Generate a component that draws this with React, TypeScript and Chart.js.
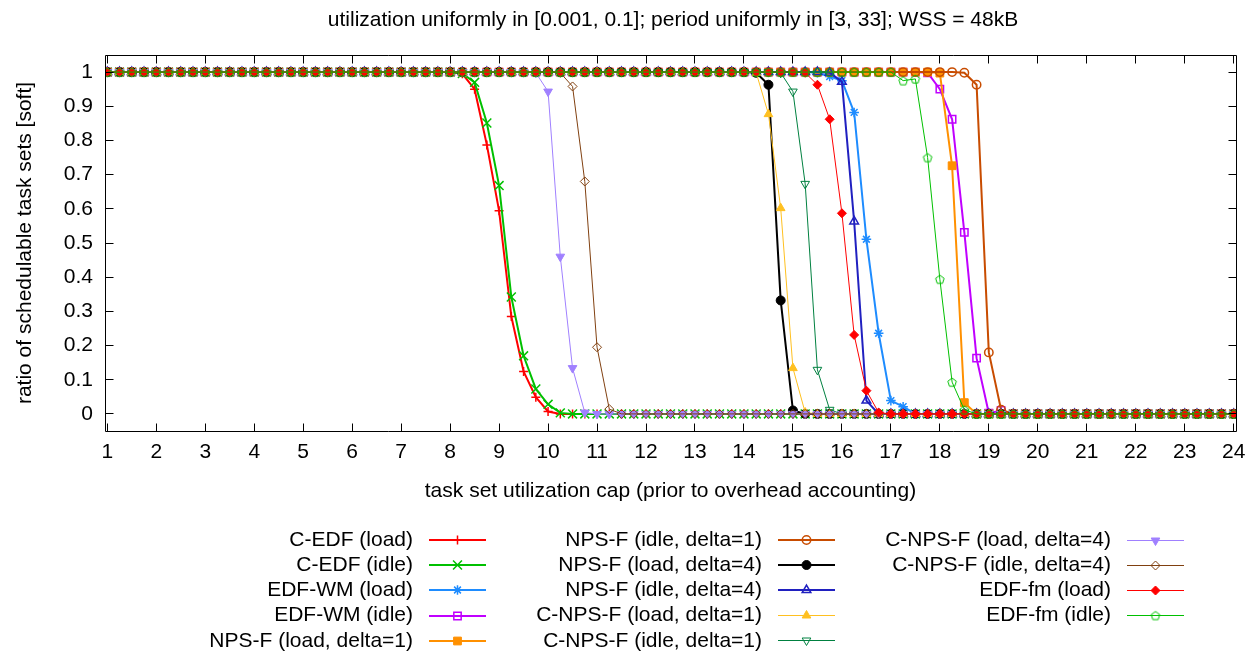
import React, { useEffect, useRef } from "react";
import { Chart, registerables } from "chart.js";
import { drawPoint } from "chart.js/helpers";

Chart.register(...registerables);

const FONT = "'Liberation Sans', Arial, sans-serif";
const FONT_SIZE = 21;

const chartTitle = "utilization uniformly in [0.001, 0.1]; period uniformly in [3, 33]; WSS = 48kB";
const xAxisTitle = "task set utilization cap (prior to overhead accounting)";
const yAxisTitle = "ratio of schedulable task sets [soft]";

const xValues = [
  1, 1.25, 1.5, 1.75, 2, 2.25, 2.5, 2.75, 3, 3.25,
  3.5, 3.75, 4, 4.25, 4.5, 4.75, 5, 5.25, 5.5, 5.75,
  6, 6.25, 6.5, 6.75, 7, 7.25, 7.5, 7.75, 8, 8.25,
  8.5, 8.75, 9, 9.25, 9.5, 9.75, 10, 10.25, 10.5, 10.75,
  11, 11.25, 11.5, 11.75, 12, 12.25, 12.5, 12.75, 13, 13.25,
  13.5, 13.75, 14, 14.25, 14.5, 14.75, 15, 15.25, 15.5, 15.75,
  16, 16.25, 16.5, 16.75, 17, 17.25, 17.5, 17.75, 18, 18.25,
  18.5, 18.75, 19, 19.25, 19.5, 19.75, 20, 20.25, 20.5, 20.75,
  21, 21.25, 21.5, 21.75, 22, 22.25, 22.5, 22.75, 23, 23.25,
  23.5, 23.75, 24,
];

const xTicks = [1, 2, 3, 4, 5, 6, 7, 8, 9, 10, 11, 12, 13, 14, 15, 16, 17, 18, 19, 20, 21, 22, 23, 24];
const yTicks = [0, 0.1, 0.2, 0.3, 0.4, 0.5, 0.6, 0.7, 0.8, 0.9, 1];
const yTickLabels = ["0", "0.1", "0.2", "0.3", "0.4", "0.5", "0.6", "0.7", "0.8", "0.9", "1"];

const cEdfLoad = [
  1, 1, 1, 1, 1, 1, 1, 1, 1, 1,
  1, 1, 1, 1, 1, 1, 1, 1, 1, 1,
  1, 1, 1, 1, 1, 1, 1, 1, 1, 0.995,
  0.95, 0.787, 0.594, 0.285, 0.124, 0.049, 0.007, 0, 0, 0,
  0, 0, 0, 0, 0, 0, 0, 0, 0, 0,
  0, 0, 0, 0, 0, 0, 0, 0, 0, 0,
  0, 0, 0, 0, 0, 0, 0, 0, 0, 0,
  0, 0, 0, 0, 0, 0, 0, 0, 0, 0,
  0, 0, 0, 0, 0, 0, 0, 0, 0, 0,
  0, 0, 0,
];
const cEdfIdle = [
  1, 1, 1, 1, 1, 1, 1, 1, 1, 1,
  1, 1, 1, 1, 1, 1, 1, 1, 1, 1,
  1, 1, 1, 1, 1, 1, 1, 1, 1, 0.996,
  0.97, 0.851, 0.668, 0.342, 0.17, 0.073, 0.028, 0.003, 0, 0,
  0, 0, 0, 0, 0, 0, 0, 0, 0, 0,
  0, 0, 0, 0, 0, 0, 0, 0, 0, 0,
  0, 0, 0, 0, 0, 0, 0, 0, 0, 0,
  0, 0, 0, 0, 0, 0, 0, 0, 0, 0,
  0, 0, 0, 0, 0, 0, 0, 0, 0, 0,
  0, 0, 0,
];
const edfWmLoad = [
  1, 1, 1, 1, 1, 1, 1, 1, 1, 1,
  1, 1, 1, 1, 1, 1, 1, 1, 1, 1,
  1, 1, 1, 1, 1, 1, 1, 1, 1, 1,
  1, 1, 1, 1, 1, 1, 1, 1, 1, 1,
  1, 1, 1, 1, 1, 1, 1, 1, 1, 1,
  1, 1, 1, 1, 1, 1, 1, 1, 0.998, 0.987,
  0.975, 0.882, 0.511, 0.236, 0.039, 0.021, 0, 0, 0, 0,
  0, 0, 0, 0, 0, 0, 0, 0, 0, 0,
  0, 0, 0, 0, 0, 0, 0, 0, 0, 0,
  0, 0, 0,
];
const edfWmIdle = [
  1, 1, 1, 1, 1, 1, 1, 1, 1, 1,
  1, 1, 1, 1, 1, 1, 1, 1, 1, 1,
  1, 1, 1, 1, 1, 1, 1, 1, 1, 1,
  1, 1, 1, 1, 1, 1, 1, 1, 1, 1,
  1, 1, 1, 1, 1, 1, 1, 1, 1, 1,
  1, 1, 1, 1, 1, 1, 1, 1, 1, 1,
  1, 1, 1, 1, 1, 1, 1, 0.998, 0.95, 0.862,
  0.531, 0.163, 0.002, 0.01, 0, 0, 0, 0, 0, 0,
  0, 0, 0, 0, 0, 0, 0, 0, 0, 0,
  0, 0, 0,
];
const npsfLoad1 = [
  1, 1, 1, 1, 1, 1, 1, 1, 1, 1,
  1, 1, 1, 1, 1, 1, 1, 1, 1, 1,
  1, 1, 1, 1, 1, 1, 1, 1, 1, 1,
  1, 1, 1, 1, 1, 1, 1, 1, 1, 1,
  1, 1, 1, 1, 1, 1, 1, 1, 1, 1,
  1, 1, 1, 1, 1, 1, 1, 1, 1, 1,
  1, 1, 1, 1, 1, 1, 1, 1, 0.997, 0.726,
  0.033, 0, 0, 0, 0, 0, 0, 0, 0, 0,
  0, 0, 0, 0, 0, 0, 0, 0, 0, 0,
  0, 0, 0,
];
const npsfIdle1 = [
  1, 1, 1, 1, 1, 1, 1, 1, 1, 1,
  1, 1, 1, 1, 1, 1, 1, 1, 1, 1,
  1, 1, 1, 1, 1, 1, 1, 1, 1, 1,
  1, 1, 1, 1, 1, 1, 1, 1, 1, 1,
  1, 1, 1, 1, 1, 1, 1, 1, 1, 1,
  1, 1, 1, 1, 1, 1, 1, 1, 1, 1,
  1, 1, 1, 1, 1, 1, 1, 1, 1, 1,
  0.998, 0.963, 0.18, 0.012, 0, 0, 0, 0, 0, 0,
  0, 0, 0, 0, 0, 0, 0, 0, 0, 0,
  0, 0, 0,
];
const npsfLoad4 = [
  1, 1, 1, 1, 1, 1, 1, 1, 1, 1,
  1, 1, 1, 1, 1, 1, 1, 1, 1, 1,
  1, 1, 1, 1, 1, 1, 1, 1, 1, 1,
  1, 1, 1, 1, 1, 1, 1, 1, 1, 1,
  1, 1, 1, 1, 1, 1, 1, 1, 1, 1,
  1, 1, 1, 0.998, 0.963, 0.332, 0.01, 0, 0, 0,
  0, 0, 0, 0, 0, 0, 0, 0, 0, 0,
  0, 0, 0, 0, 0, 0, 0, 0, 0, 0,
  0, 0, 0, 0, 0, 0, 0, 0, 0, 0,
  0, 0, 0,
];
const npsfIdle4 = [
  1, 1, 1, 1, 1, 1, 1, 1, 1, 1,
  1, 1, 1, 1, 1, 1, 1, 1, 1, 1,
  1, 1, 1, 1, 1, 1, 1, 1, 1, 1,
  1, 1, 1, 1, 1, 1, 1, 1, 1, 1,
  1, 1, 1, 1, 1, 1, 1, 1, 1, 1,
  1, 1, 1, 1, 1, 1, 1, 1, 1, 0.998,
  0.972, 0.563, 0.039, 0, 0, 0, 0, 0, 0, 0,
  0, 0, 0, 0, 0, 0, 0, 0, 0, 0,
  0, 0, 0, 0, 0, 0, 0, 0, 0, 0,
  0, 0, 0,
];
const cnpsfLoad1 = [
  1, 1, 1, 1, 1, 1, 1, 1, 1, 1,
  1, 1, 1, 1, 1, 1, 1, 1, 1, 1,
  1, 1, 1, 1, 1, 1, 1, 1, 1, 1,
  1, 1, 1, 1, 1, 1, 1, 1, 1, 1,
  1, 1, 1, 1, 1, 1, 1, 1, 1, 1,
  1, 1, 1, 0.998, 0.877, 0.602, 0.134, 0.004, 0, 0,
  0, 0, 0, 0, 0, 0, 0, 0, 0, 0,
  0, 0, 0, 0, 0, 0, 0, 0, 0, 0,
  0, 0, 0, 0, 0, 0, 0, 0, 0, 0,
  0, 0, 0,
];
const cnpsfIdle1 = [
  1, 1, 1, 1, 1, 1, 1, 1, 1, 1,
  1, 1, 1, 1, 1, 1, 1, 1, 1, 1,
  1, 1, 1, 1, 1, 1, 1, 1, 1, 1,
  1, 1, 1, 1, 1, 1, 1, 1, 1, 1,
  1, 1, 1, 1, 1, 1, 1, 1, 1, 1,
  1, 1, 1, 1, 1, 0.998, 0.943, 0.673, 0.129, 0.012,
  0, 0, 0, 0, 0, 0, 0, 0, 0, 0,
  0, 0, 0, 0, 0, 0, 0, 0, 0, 0,
  0, 0, 0, 0, 0, 0, 0, 0, 0, 0,
  0, 0, 0,
];
const cnpsfLoad4 = [
  1, 1, 1, 1, 1, 1, 1, 1, 1, 1,
  1, 1, 1, 1, 1, 1, 1, 1, 1, 1,
  1, 1, 1, 1, 1, 1, 1, 1, 1, 1,
  1, 1, 1, 1, 1, 0.998, 0.943, 0.46, 0.134, 0.004,
  0, 0, 0, 0, 0, 0, 0, 0, 0, 0,
  0, 0, 0, 0, 0, 0, 0, 0, 0, 0,
  0, 0, 0, 0, 0, 0, 0, 0, 0, 0,
  0, 0, 0, 0, 0, 0, 0, 0, 0, 0,
  0, 0, 0, 0, 0, 0, 0, 0, 0, 0,
  0, 0, 0,
];
const cnpsfIdle4 = [
  1, 1, 1, 1, 1, 1, 1, 1, 1, 1,
  1, 1, 1, 1, 1, 1, 1, 1, 1, 1,
  1, 1, 1, 1, 1, 1, 1, 1, 1, 1,
  1, 1, 1, 1, 1, 1, 1, 0.998, 0.958, 0.68,
  0.195, 0.014, 0, 0, 0, 0, 0, 0, 0, 0,
  0, 0, 0, 0, 0, 0, 0, 0, 0, 0,
  0, 0, 0, 0, 0, 0, 0, 0, 0, 0,
  0, 0, 0, 0, 0, 0, 0, 0, 0, 0,
  0, 0, 0, 0, 0, 0, 0, 0, 0, 0,
  0, 0, 0,
];
const edfFmLoad = [
  1, 1, 1, 1, 1, 1, 1, 1, 1, 1,
  1, 1, 1, 1, 1, 1, 1, 1, 1, 1,
  1, 1, 1, 1, 1, 1, 1, 1, 1, 1,
  1, 1, 1, 1, 1, 1, 1, 1, 1, 1,
  1, 1, 1, 1, 1, 1, 1, 1, 1, 1,
  1, 1, 1, 1, 1, 1, 1, 0.998, 0.963, 0.862,
  0.587, 0.231, 0.068, 0.004, 0, 0, 0, 0, 0, 0,
  0, 0, 0, 0, 0, 0, 0, 0, 0, 0,
  0, 0, 0, 0, 0, 0, 0, 0, 0, 0,
  0, 0, 0,
];
const edfFmIdle = [
  1, 1, 1, 1, 1, 1, 1, 1, 1, 1,
  1, 1, 1, 1, 1, 1, 1, 1, 1, 1,
  1, 1, 1, 1, 1, 1, 1, 1, 1, 1,
  1, 1, 1, 1, 1, 1, 1, 1, 1, 1,
  1, 1, 1, 1, 1, 1, 1, 1, 1, 1,
  1, 1, 1, 1, 1, 1, 1, 1, 1, 1,
  1, 1, 1, 1, 1, 0.975, 0.98, 0.75, 0.394, 0.093,
  0.012, 0, 0, 0, 0, 0, 0, 0, 0, 0,
  0, 0, 0, 0, 0, 0, 0, 0, 0, 0,
  0, 0, 0,
];

const seriesNames = [
  "C-EDF (load)",
  "C-EDF (idle)",
  "EDF-WM (load)",
  "EDF-WM (idle)",
  "NPS-F (load, delta=1)",
  "NPS-F (idle, delta=1)",
  "NPS-F (load, delta=4)",
  "NPS-F (idle, delta=4)",
  "C-NPS-F (load, delta=1)",
  "C-NPS-F (idle, delta=1)",
  "C-NPS-F (load, delta=4)",
  "C-NPS-F (idle, delta=4)",
  "EDF-fm (load)",
  "EDF-fm (idle)",
];

const seriesValues = [
  cEdfLoad, cEdfIdle, edfWmLoad, edfWmIdle, npsfLoad1, npsfIdle1, npsfLoad4,
  npsfIdle4, cnpsfLoad1, cnpsfIdle1, cnpsfLoad4, cnpsfIdle4, edfFmLoad, edfFmIdle,
];

type Style = {
  color: string;
  lw: number;
  marker: string;
  r: number;
  filled: boolean;
  rot: number;
  mlw: number;
};

const seriesStyles: Style[] = [
  { color: "#ff0000", lw: 2, marker: "cross", r: 4.5, filled: false, rot: 0, mlw: 1.5 },
  { color: "#00c000", lw: 2, marker: "crossRot", r: 6.3, filled: false, rot: 0, mlw: 1.5 },
  { color: "#1e8cff", lw: 2, marker: "star", r: 4.8, filled: false, rot: 0, mlw: 1.5 },
  { color: "#c000ff", lw: 2, marker: "rect", r: 5.2, filled: false, rot: 0, mlw: 1.5 },
  { color: "#ff9000", lw: 2, marker: "rect", r: 5.5, filled: true, rot: 0, mlw: 1 },
  { color: "#c84c00", lw: 2, marker: "circle", r: 4.2, filled: false, rot: 0, mlw: 1.5 },
  { color: "#000000", lw: 2, marker: "circle", r: 4.5, filled: true, rot: 0, mlw: 1 },
  { color: "#2020c0", lw: 2, marker: "triangle", r: 5, filled: false, rot: 0, mlw: 1.5 },
  { color: "#ffc020", lw: 1, marker: "triangle", r: 5, filled: true, rot: 0, mlw: 1 },
  { color: "#008040", lw: 1, marker: "triangle", r: 5, filled: false, rot: 180, mlw: 1 },
  { color: "#a080ff", lw: 1, marker: "triangle", r: 5, filled: true, rot: 180, mlw: 1 },
  { color: "#804010", lw: 1, marker: "rectRot", r: 4.5, filled: false, rot: 0, mlw: 1 },
  { color: "#ff0000", lw: 1, marker: "rectRot", r: 4.5, filled: true, rot: 0, mlw: 1 },
  { color: "#00c000", lw: 1, marker: "pentagon", r: 4.5, filled: false, rot: 0, mlw: 1 },
];

function makePentagon(color: string, r: number, lw: number): HTMLCanvasElement {
  const c = document.createElement("canvas");
  c.width = 14;
  c.height = 14;
  const ctx = c.getContext("2d")!;
  ctx.strokeStyle = color;
  ctx.lineWidth = lw;
  ctx.beginPath();
  for (let k = 0; k < 5; k++) {
    const a = -Math.PI / 2 + (k * 2 * Math.PI) / 5;
    const px = 7 + r * Math.cos(a);
    const py = 7.5 + r * Math.sin(a);
    if (k === 0) ctx.moveTo(px, py);
    else ctx.lineTo(px, py);
  }
  ctx.closePath();
  ctx.stroke();
  return c;
}

export default function App() {
  const canvasRef = useRef<HTMLCanvasElement | null>(null);

  useEffect(() => {
    const canvas = canvasRef.current;
    if (!canvas) return;

    const pointStyles: any[] = seriesStyles.map((s) =>
      s.marker === "pentagon" ? makePentagon(s.color, s.r, s.mlw) : s.marker
    );

    const datasets = seriesValues.map((vals, i) => {
      const s = seriesStyles[i];
      return {
        label: seriesNames[i],
        data: xValues.map((x, j) => ({ x, y: vals[j] })),
        borderColor: s.color,
        backgroundColor: s.color,
        borderWidth: s.lw,
        pointStyle: pointStyles[i],
        pointRadius: s.r,
        pointRotation: s.rot,
        pointBorderWidth: s.mlw,
        pointBorderColor: s.color,
        pointBackgroundColor: s.filled ? s.color : "rgba(0,0,0,0)",
        tension: 0,
        fill: false,
        order: seriesValues.length - i,
      };
    });

    const decorPlugin = {
      id: "decor",
      afterDraw(chart: any) {
        const ctx: CanvasRenderingContext2D = chart.ctx;
        const area = chart.chartArea;
        const xs = chart.scales.x;
        const ys = chart.scales.y;
        const L = Math.floor(area.left) + 0.5;
        const R = Math.floor(area.right) + 0.5;
        const T = Math.floor(area.top) + 0.5;
        const B = Math.floor(area.bottom) + 0.5;
        const tick = 8;

        ctx.save();
        ctx.strokeStyle = "#000";
        ctx.lineWidth = 1;
        ctx.beginPath();
        for (const v of xTicks) {
          const px = Math.floor(xs.getPixelForValue(v)) + 0.5;
          ctx.moveTo(px, B);
          ctx.lineTo(px, B - tick);
          ctx.moveTo(px, T);
          ctx.lineTo(px, T + tick);
        }
        for (const v of yTicks) {
          const py = Math.floor(ys.getPixelForValue(v)) + 0.5;
          ctx.moveTo(L, py);
          ctx.lineTo(L + tick, py);
          ctx.moveTo(R, py);
          ctx.lineTo(R - tick, py);
        }
        ctx.stroke();
        ctx.beginPath();
        ctx.rect(L, T, R - L, B - T);
        ctx.stroke();

        ctx.fillStyle = "#000";
        ctx.font = `${FONT_SIZE}px ${FONT}`;
        ctx.textAlign = "center";
        ctx.textBaseline = "middle";
        ctx.fillText(chartTitle, 673, 20);
        ctx.fillText(xAxisTitle, 670.5, 491);
        ctx.save();
        ctx.translate(25, 243);
        ctx.rotate(-Math.PI / 2);
        ctx.fillText(yAxisTitle, 0, 0);
        ctx.restore();

        // legend
        const colRight = [413, 762, 1111];
        const row0 = 540;
        const rowStep = 25.2;
        for (let i = 0; i < seriesNames.length; i++) {
          const s = seriesStyles[i];
          const col = Math.floor(i / 5);
          const row = i % 5;
          const tx = colRight[col];
          const ty = row0 + row * rowStep;
          ctx.fillStyle = "#000";
          ctx.textAlign = "right";
          ctx.textBaseline = "middle";
          ctx.fillText(seriesNames[i], tx, ty);
          const ly = s.lw === 1 ? Math.floor(ty) + 0.5 : Math.round(ty);
          ctx.strokeStyle = s.color;
          ctx.lineWidth = s.lw;
          ctx.beginPath();
          ctx.moveTo(tx + 16, ly);
          ctx.lineTo(tx + 73, ly);
          ctx.stroke();
          ctx.fillStyle = s.filled ? s.color : "rgba(0,0,0,0)";
          ctx.strokeStyle = s.color;
          ctx.lineWidth = s.mlw;
          drawPoint(
            ctx,
            { pointStyle: pointStyles[i], rotation: s.rot, radius: s.r, borderWidth: s.mlw } as any,
            tx + 44.5,
            ly
          );
        }
        ctx.restore();
      },
    };

    const tickFont = { family: FONT, size: FONT_SIZE };

    const chart = new Chart(canvas, {
      type: "line",
      data: { datasets: datasets as any },
      options: {
        animation: false,
        responsive: false,
        events: [],
        layout: { padding: { left: 8, top: 55, right: 22, bottom: 182 } },
        plugins: {
          legend: { display: false },
          title: { display: false },
          tooltip: { enabled: false },
        },
        scales: {
          x: {
            type: "linear",
            min: 0.953,
            max: 24.047,
            afterBuildTicks: (scale: any) => {
              scale.ticks = xTicks.map((v) => ({ value: v }));
            },
            afterFit: (scale: any) => {
              scale.height = 40;
            },
            grid: { display: false, drawTicks: false },
            border: { display: false },
            ticks: {
              padding: 9,
              color: "#000",
              font: tickFont,
              maxRotation: 0,
              autoSkip: false,
              callback: (v: any) => String(v),
            },
          },
          y: {
            type: "linear",
            min: -0.05,
            max: 1.05,
            afterBuildTicks: (scale: any) => {
              scale.ticks = yTicks.map((v) => ({ value: v }));
            },
            afterFit: (scale: any) => {
              scale.width = 97;
            },
            grid: { display: false, drawTicks: false },
            border: { display: false },
            ticks: {
              padding: 12,
              color: "#000",
              font: tickFont,
              autoSkip: false,
              callback: (_v: any, i: number) => yTickLabels[i],
            },
          },
        },
      } as any,
      plugins: [decorPlugin],
    });

    return () => {
      chart.destroy();
    };
  }, []);

  return (
    <div style={{ position: "absolute", left: 0, top: 0, width: 1258, height: 653, background: "#fff" }}>
      <canvas ref={canvasRef} width={1258} height={653} style={{ display: "block" }} />
    </div>
  );
}
